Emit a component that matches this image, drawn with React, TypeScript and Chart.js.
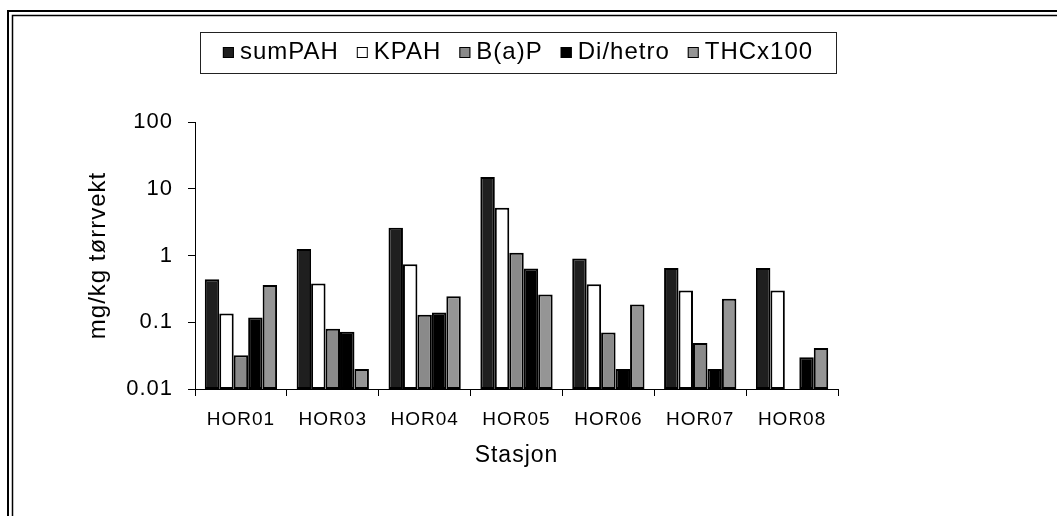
import React, { useEffect, useRef } from "react";
import { Chart, registerables } from "chart.js";

Chart.register(...registerables);

const categories = ["HOR01", "HOR03", "HOR04", "HOR05", "HOR06", "HOR07", "HOR08"];
const sumPAH = [0.44, 1.25, 2.6, 15, 0.9, 0.65, 0.65];
const KPAH = [0.135, 0.38, 0.74, 5.2, 0.37, 0.3, 0.3];
const BaP = [0.032, 0.08, 0.13, 1.1, 0.07, 0.049, null];
const DiHetro = [0.118, 0.072, 0.14, 0.64, 0.02, 0.02, 0.03];
const THCx100 = [0.36, 0.02, 0.245, 0.26, 0.185, 0.225, 0.041];
const yTicks = [0.01, 0.1, 1, 10, 100];
const seriesNames = ["sumPAH", "KPAH", "B(a)P", "Di/hetro", "THCx100"];
const seriesColors = ["#1f1f1f", "#ffffff", "#8a8a8a", "#000000", "#959595"];

const FONT = "'Liberation Sans', Arial, sans-serif";

const spacingPlugin = {
  id: "spacing",
  beforeUpdate(chart: any) {
    chart.ctx.letterSpacing = "1px";
  },
  beforeDraw(chart: any) {
    chart.ctx.letterSpacing = "1px";
  },
};

const framePlugin = {
  id: "frame",
  beforeDraw(chart: any) {
    const { ctx, width, height } = chart;
    ctx.save();
    ctx.fillStyle = "#fff";
    ctx.fillRect(0, 0, width, height);
    ctx.strokeStyle = "#000";
    ctx.lineWidth = 2;
    ctx.beginPath();
    ctx.moveTo(8, height);
    ctx.lineTo(8, 11);
    ctx.lineTo(width, 11);
    ctx.stroke();
    ctx.lineWidth = 1.5;
    ctx.beginPath();
    ctx.moveTo(12.5, height);
    ctx.lineTo(12.5, 15.5);
    ctx.lineTo(width, 15.5);
    ctx.stroke();
    ctx.restore();
  },
};

const legendPlugin = {
  id: "boxLegend",
  afterDraw(chart: any) {
    const { ctx } = chart;
    const left = 200, right = 836, top = 32, bottom = 73;
    ctx.save();
    ctx.strokeStyle = "#222";
    ctx.lineWidth = 1;
    ctx.strokeRect(left + 0.5, top + 0.5, right - left, bottom - top);
    ctx.font = `24px ${FONT}`;
    ctx.textBaseline = "middle";
    const sq = 11, gapA = 6, gapB = 18;
    const ds = chart.data.datasets;
    let total = 0;
    ds.forEach((d: any, i: number) => {
      total += sq + gapA + ctx.measureText(d.label).width + (i < ds.length - 1 ? gapB : 0);
    });
    let x = (left + right) / 2 - total / 2;
    const cy = 52.5;
    ds.forEach((d: any) => {
      ctx.fillStyle = d.backgroundColor;
      ctx.fillRect(x, cy - sq / 2, sq, sq);
      ctx.strokeStyle = "#000";
      ctx.lineWidth = 1;
      ctx.strokeRect(x + 0.5, cy - sq / 2 + 0.5, sq - 1, sq - 1);
      x += sq + gapA;
      ctx.fillStyle = "#000";
      ctx.fillText(d.label, x, cy);
      x += ctx.measureText(d.label).width + gapB;
    });
    ctx.restore();
  },
};

export default function App() {
  const ref = useRef<HTMLCanvasElement | null>(null);
  useEffect(() => {
    if (!ref.current) return;
    const values = [sumPAH, KPAH, BaP, DiHetro, THCx100];
    const chart = new Chart(ref.current, {
      type: "bar",
      data: {
        labels: categories,
        datasets: values.map((v, i) => ({
          label: seriesNames[i],
          data: v,
          backgroundColor: seriesColors[i],
          borderColor: "#000",
          borderWidth: 2,
          borderSkipped: false,
          categoryPercentage: 0.787,
          barPercentage: 1.0,
        })),
      },
      options: {
        animation: false,
        responsive: false,
        devicePixelRatio: 1,
        layout: { padding: { left: 84, right: 219, top: 122, bottom: 47 } },
        plugins: { legend: { display: false }, tooltip: { enabled: false } },
        scales: {
          x: {
            type: "category",
            offset: true,
            grid: { display: true, drawOnChartArea: false, drawTicks: true, tickLength: 7, color: "#000", offset: true },
            border: { display: true, color: "#000", width: 1 },
            ticks: { color: "#000", padding: 12, font: { family: FONT, size: 19 }, maxRotation: 0 },
            title: { display: true, text: "Stasjon", color: "#000", padding: 0, font: { family: FONT, size: 23 } },
            afterFit: (s: any) => { s.height = 80; },
          },
          y: {
            type: "logarithmic",
            min: 0.01,
            max: 100,
            afterBuildTicks: (s: any) => { s.ticks = yTicks.map((v) => ({ value: v })); },
            grid: { display: true, drawOnChartArea: false, drawTicks: true, tickLength: 7, color: "#000" },
            border: { display: true, color: "#000", width: 1 },
            ticks: {
              color: "#000",
              padding: 15,
              font: { family: FONT, size: 22 },
              callback: (v: any) => String(Number(v)),
            },
            title: { display: true, text: "mg/kg tørrvekt", color: "#000", padding: 0, font: { family: FONT, size: 24 } },
            afterFit: (s: any) => { s.width = 111; },
          },
        },
      },
      plugins: [spacingPlugin, framePlugin, legendPlugin],
    });
    return () => chart.destroy();
  }, []);
  return (
    <canvas
      ref={ref}
      width={1057}
      height={516}
      style={{ position: "absolute", left: 0, top: 0, width: "1057px", height: "516px" }}
    />
  );
}
